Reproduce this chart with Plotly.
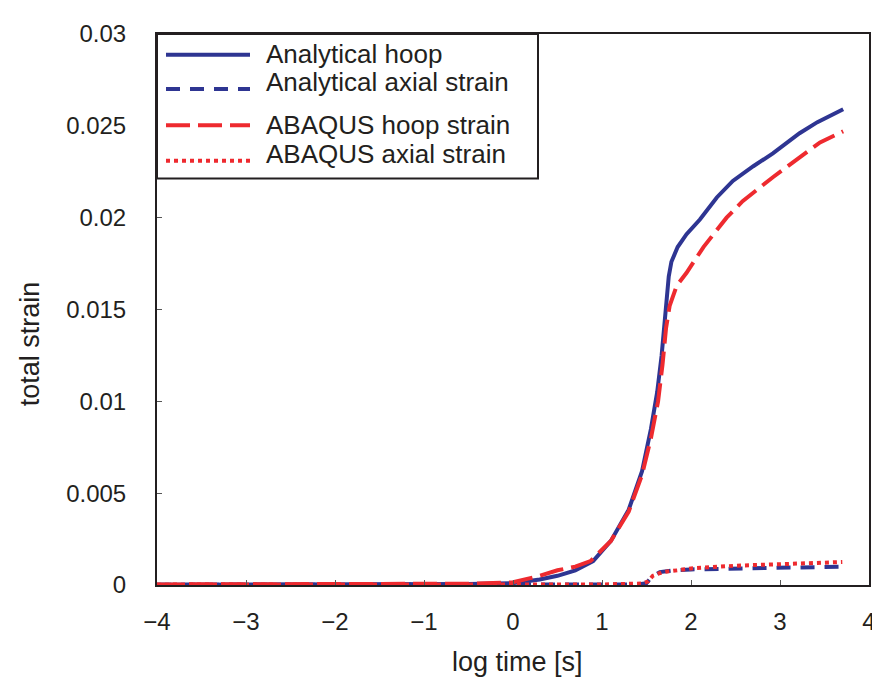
import plotly.graph_objects as go

# ---- data ----
x_an_hoop = [-4.0, -3.0, -2.0, -1.0, -0.5, 0.0, 0.3, 0.5, 0.7, 0.9, 1.1, 1.3, 1.45, 1.55,
             1.62, 1.67, 1.71, 1.75, 1.78, 1.85, 1.95, 2.10, 2.29, 2.47, 2.70, 2.92, 3.22, 3.42, 3.71]
y_an_hoop = [0.00002, 0.00002, 0.00002, 0.00003, 0.00005, 0.0001, 0.0003, 0.0005, 0.0008, 0.0013,
             0.0024, 0.0041, 0.0062, 0.0085, 0.0105, 0.0125, 0.0145, 0.0168, 0.0176, 0.0184,
             0.0191, 0.0199, 0.0211, 0.0220, 0.0228, 0.0235, 0.0246, 0.0252, 0.0259]

x_an_axial = [-4.0, -2.0, 0.0, 1.0, 1.4, 1.5, 1.55, 1.65, 1.8, 2.0, 2.5, 3.0, 3.7]
y_an_axial = [0.00001, 0.00001, 0.00001, 0.00002, 0.00003, 0.0001, 0.0004, 0.0007, 0.0008,
              0.00085, 0.0009, 0.00095, 0.001]

x_ab_hoop = [-4.0, -2.0, -1.0, -0.5, 0.0, 0.3, 0.5, 0.7, 0.87, 1.1, 1.3, 1.45, 1.55, 1.63,
             1.68, 1.72, 1.76, 1.84, 1.95, 2.14, 2.40, 2.58, 2.92, 3.22, 3.45, 3.71]
y_ab_hoop = [0.00003, 0.00003, 0.00004, 0.00007, 0.00015, 0.0005, 0.0008, 0.0010, 0.0013,
             0.0024, 0.0040, 0.0060, 0.0080, 0.0100, 0.0120, 0.0140, 0.0152, 0.0163, 0.0170,
             0.0184, 0.0200, 0.0209, 0.0222, 0.0233, 0.0241, 0.0247]

x_ab_axial = [-4.0, -2.0, 0.0, 1.0, 1.45, 1.52, 1.57, 1.68, 1.85, 2.0, 2.5, 3.0, 3.7]
y_ab_axial = [0.00002, 0.00002, 0.00002, 0.00003, 0.00008, 0.0002, 0.0005, 0.0007, 0.0008,
              0.0009, 0.00105, 0.00115, 0.00125]

legend_labels = ["Analytical hoop", "Analytical axial strain",
                 "ABAQUS hoop strain", "ABAQUS axial strain"]

BLUE = "#2E3592"
RED = "#EE2A2F"
FONT = "Liberation Sans, Arial, sans-serif"
INK = "#231F20"

series = [
    (x_an_hoop, y_an_hoop, BLUE, "solid"),
    (x_an_axial, y_an_axial, BLUE, "14px,10px"),
    (x_ab_hoop, y_ab_hoop, RED, "24px,8px"),
    (x_ab_axial, y_ab_axial, RED, "4px,4px"),
]

fig = go.Figure()
for (xs, ys, col, dash), name in zip(series, legend_labels):
    fig.add_trace(go.Scatter(x=xs, y=ys, mode="lines", name=name,
                             line=dict(color=col, width=4, dash=dash),
                             showlegend=False))

# ---- layout geometry (page has an 8px body margin) ----
W, H = 880, 686
OFF = 8
pl, pr, pt, pb = 157, 869, 24, 585          # plot area in window pixels
ml, mt = pl - OFF, pt - OFF
pw, ph = pr - pl, pb - pt
mr = W - ml - pw
mb = H - mt - ph

def px_x(p):
    return (p - pl) / pw

def px_y(p):
    return 1 - (p - pt) / ph

# ---- manual legend (box, samples, labels) ----
fig.add_shape(type="rect", xref="paper", yref="paper",
              x0=px_x(157), x1=px_x(538), y0=px_y(171), y1=px_y(24),
              line=dict(color=INK, width=2), fillcolor="white", layer="above")

sample_rows = [45, 80, 117, 153]
text_rows = [44, 73, 117, 146]
for (xs, ys, col, dash), ry, ty, lab in zip(series, sample_rows, text_rows, legend_labels):
    fig.add_shape(type="line", xref="paper", yref="paper",
                  x0=px_x(166), x1=px_x(250), y0=px_y(ry), y1=px_y(ry),
                  line=dict(color=col, width=4, dash=dash), layer="above")
    fig.add_annotation(xref="paper", yref="paper", x=px_x(264), y=px_y(ty),
                       text=lab, showarrow=False, xanchor="left", yanchor="middle",
                       font=dict(family=FONT, size=26, color=INK))

axis_common = dict(showgrid=False, zeroline=False, showline=True, linecolor=INK,
                   linewidth=2, mirror=True, ticks="inside", ticklen=5, tickwidth=1,
                   tickcolor="#555555",
                   tickfont=dict(family=FONT, size=24, color=INK))

fig.update_xaxes(range=[-4, 4], dtick=1, tick0=-4, ticklabelstandoff=14, **axis_common)
fig.update_yaxes(range=[0, 0.03], dtick=0.005, tick0=0, ticklabelstandoff=24, **axis_common)

fig.add_annotation(xref="paper", yref="paper", x=px_x(517), y=px_y(663),
                   text="log time [s]", showarrow=False, xanchor="center", yanchor="middle",
                   font=dict(family=FONT, size=27, color=INK))
fig.add_annotation(xref="paper", yref="paper", x=px_x(30), y=px_y(340),
                   text="total strain", showarrow=False, textangle=-90,
                   xanchor="center", yanchor="middle",
                   font=dict(family=FONT, size=27, color=INK))

fig.update_layout(width=W, height=H, margin=dict(l=ml, r=mr, t=mt, b=mb),
                  plot_bgcolor="white", paper_bgcolor="white", showlegend=False)

fig.write_html("out.html")
